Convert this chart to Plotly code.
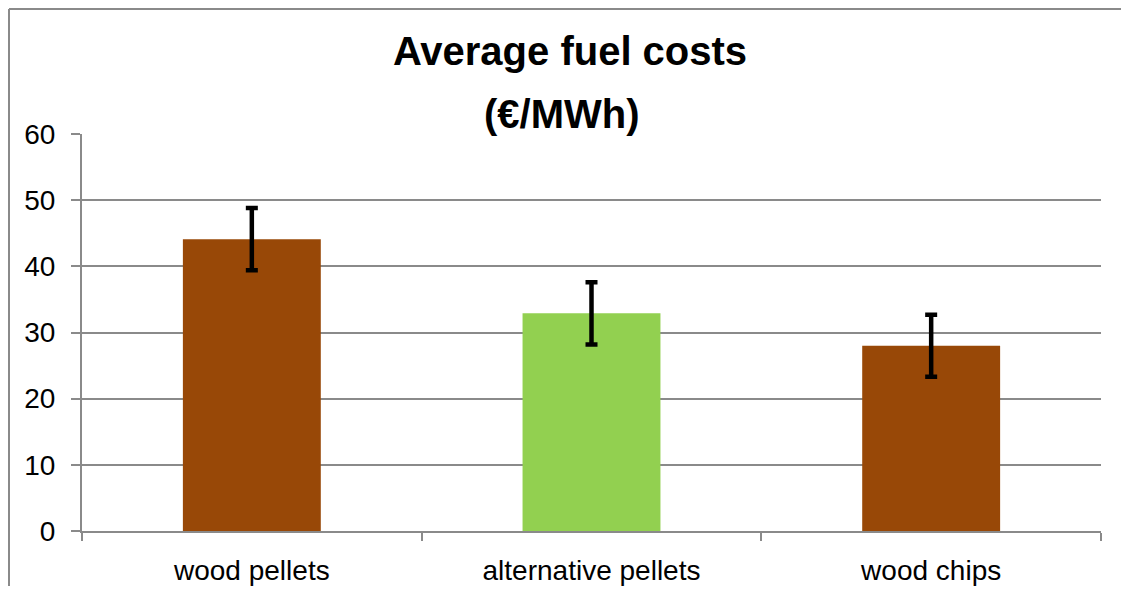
import plotly.graph_objects as go

categories = ["wood pellets", "alternative pellets", "wood chips"]
values = [44.1, 32.9, 28.0]
errors = [4.7, 4.7, 4.7]
colors = ["#984807", "#92D050", "#984807"]
y_ticks = [0, 10, 20, 30, 40, 50, 60]

OFF = 8  # page body margin (on every side)
W, H = 1129 - 2 * OFF, 594 - 2 * OFF
L, T = 82 - OFF, 134 - OFF
pw, ph = 1019, 397
R = W - L - pw
B = H - T - ph

fig = go.Figure()
fig.add_trace(go.Bar(
    x=categories, y=values,
    marker=dict(color=colors, line=dict(width=0)),
    error_y=dict(type="data", array=errors, visible=True,
                 color="black", thickness=4.5, width=6),
))

grid = "#8a8a8a"
font_fam = "Liberation Sans, Arial, sans-serif"
fig.update_layout(
    width=W, height=H,
    margin=dict(l=L, r=R, t=T, b=B, autoexpand=False),
    paper_bgcolor="white", plot_bgcolor="white",
    bargap=0.594,
    showlegend=False,
    font=dict(family=font_fam, color="black", size=26),
    title=dict(text="<b>Average fuel costs</b>", x=(570 - OFF) / W, xanchor="center",
               y=1 - (51 - OFF) / H, yanchor="middle",
               font=dict(family=font_fam, size=40, color="black")),
    xaxis=dict(
        automargin=False,
        showline=True, linecolor=grid, linewidth=2,
        ticks="outside", tickson="boundaries", ticklen=8, tickcolor=grid, tickwidth=2,
        ticklabelstandoff=13,
        tickfont=dict(size=28, family=font_fam, color="black"),
        showgrid=False,
    ),
    yaxis=dict(
        automargin=False,
        range=[0, 60], tickvals=y_ticks,
        showline=True, linecolor=grid, linewidth=2,
        ticks="outside", ticklen=9, tickcolor=grid, tickwidth=2,
        showgrid=True, gridcolor=grid, gridwidth=2,
        zeroline=False,
        ticklabelstandoff=10,
        tickfont=dict(size=28, family=font_fam, color="black"),
    ),
)

fig.add_annotation(
    text="<b>(€/MWh)</b>", xref="paper", yref="paper",
    x=(562 - OFF - L) / pw, y=(ph + (T + OFF) - 114) / ph, xanchor="center", yanchor="middle",
    showarrow=False, font=dict(family=font_fam, size=40, color="black"),
)

# outer chart border (left and top edges; the rest is cropped in the reference)
bx0 = (1 - L) / pw
by1 = (ph + T - 1) / ph
fig.add_shape(type="line", xref="paper", yref="paper",
              x0=bx0, x1=bx0, y0=-(B + 20) / ph, y1=by1,
              line=dict(color=grid, width=2), layer="below")
fig.add_shape(type="line", xref="paper", yref="paper",
              x0=bx0, x1=(W + 20 - L) / pw, y0=by1, y1=by1,
              line=dict(color=grid, width=2), layer="below")

fig.write_html("out.html")
